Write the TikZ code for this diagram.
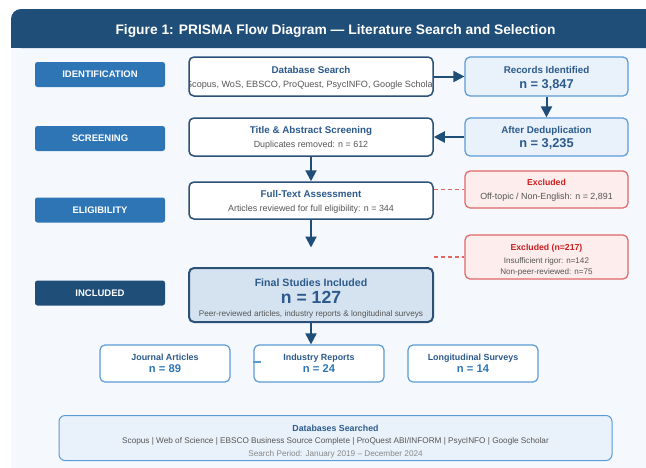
\documentclass[tikz,border=0pt]{standalone}
\usepackage{fontspec}
\setmainfont{Liberation Sans}
\usetikzlibrary{arrows.meta}
\definecolor{hdr}{HTML}{1F4E79}
\definecolor{phase}{HTML}{2E75B6}
\definecolor{cardbg}{HTML}{F5F9FE}
\definecolor{mainbd}{HTML}{2B5178}
\definecolor{ttlc}{HTML}{2C5A8C}
\definecolor{lbd}{HTML}{5B9BD5}
\definecolor{lfill}{HTML}{E9F2FB}
\definecolor{ffill}{HTML}{D5E3F0}
\definecolor{grayt}{HTML}{555555}
\definecolor{lgrayt}{HTML}{888888}
\definecolor{redbd}{HTML}{E06666}
\definecolor{redfill}{HTML}{FDEDED}
\definecolor{redt}{HTML}{CC1F1F}
\definecolor{arrc}{HTML}{1F4E79}
\newcommand\myfs[1]{\fontsize{#1}{#1}\selectfont}
\begin{document}
\begin{tikzpicture}[x=1pt,y=-1pt,
  phasebox/.style={fill=phase, rounded corners=2.5pt, minimum width=130pt, minimum height=25pt, inner sep=0pt, text=white, font=\bfseries\myfs{9.5}},
  mainbox/.style={draw=mainbd, line width=1.5pt, fill=white, rounded corners=5pt, minimum width=244pt, inner sep=0pt},
  lightbox/.style={draw=lbd, line width=1.2pt, fill=lfill, rounded corners=5pt, minimum width=163pt, inner sep=0pt},
  redbox/.style={draw=redbd, line width=1.2pt, fill=redfill, rounded corners=5pt, minimum width=163pt, inner sep=0pt},
  finalbox/.style={draw=mainbd, line width=2pt, fill=ffill, rounded corners=5pt, minimum width=244pt, inner sep=0pt},
  smallbox/.style={draw=lbd, line width=1.2pt, fill=white, rounded corners=5pt, minimum width=130pt, minimum height=37pt, inner sep=0pt},
  dbboxst/.style={draw=lbd, line width=1pt, fill=lfill, rounded corners=6pt, minimum width=553pt, minimum height=45pt, inner sep=0pt},
  ttl/.style={inner sep=0pt, text height=7.1pt, text depth=0pt, text=ttlc, font=\bfseries\myfs{9.8}},
  redttl/.style={inner sep=0pt, text height=6.3pt, text depth=0pt, text=redt, font=\bfseries\myfs{8.7}},
  sub/.style={inner sep=0pt, text height=6.4pt, text depth=0pt, text=grayt, font=\myfs{8.9}},
  subs/.style={inner sep=0pt, text height=5.9pt, text depth=0pt, text=grayt, font=\myfs{8.1}},
  bign/.style={inner sep=0pt, text height=9.2pt, text depth=0pt, text=ttlc, font=\bfseries\myfs{12.8}},
  smttl/.style={inner sep=0pt, text height=6.4pt, text depth=0pt, text=ttlc, font=\bfseries\myfs{8.9}},
  smn/.style={inner sep=0pt, text height=8pt, text depth=0pt, text=phase, font=\bfseries\myfs{11.2}},
  arr/.style={draw=arrc, line width=2pt, -{Triangle[length=11pt,width=11pt]}},
  exline/.style={draw=redbd, line width=1.2pt, dash pattern=on 4pt off 3pt}
]
\useasboundingbox (0,0) rectangle (646,467);
\fill[white] (0,0) rectangle (646,467);
\begin{scope}
  \clip (0,0) rectangle (646,467);
  \fill[cardbg, rounded corners=10pt] (11,9) rectangle (670,490);
  \fill[hdr, rounded corners=10pt] (11,9) rectangle (670,48);
  \fill[hdr] (11,30) rectangle (670,48);
\end{scope}
\node[inner sep=0pt, text height=9.9pt, text depth=0pt, text=white, font=\bfseries\myfs{13.8}] (title) at (335.5,29.5) {Figure 1: PRISMA Flow Diagram --- Literature Search and Selection};

% phase labels
\node[phasebox] (pid) at (100,74.5) {IDENTIFICATION};
\node[phasebox] (pscr) at (100,138.5) {SCREENING};
\node[phasebox] (pel) at (100,210) {ELIGIBILITY};
\node[phasebox, fill=hdr] (pinc) at (100,293) {INCLUDED};

% boxes
\node[mainbox, minimum height=39pt] (dbsearch) at (311,76.5) {};
\node[lightbox, minimum height=39pt] (records) at (546.5,76.5) {};
\node[lightbox, minimum height=38pt] (dedup) at (546.5,137) {};
\node[mainbox, minimum height=38pt] (screen) at (311,137) {};
\node[mainbox, minimum height=37pt] (fulltext) at (311,200.5) {};
\node[redbox, minimum height=37pt] (excl1) at (546.5,189.5) {};
\node[redbox, minimum height=44pt] (excl2) at (546.5,257) {};
\node[finalbox, minimum height=54pt] (final) at (311,295) {};
\node[smallbox] (journal) at (165,363.5) {};
\node[smallbox] (industry) at (319,363.5) {};
\node[smallbox] (longit) at (473,363.5) {};
\node[dbboxst] (dbbox) at (335.5,438) {};

% texts
\node[ttl] (tdb) at (311,70) {Database Search};
\begin{scope}
  \clip[rounded corners=5pt] (dbsearch.south west) rectangle (dbsearch.north east);
  \node[sub, font=\myfs{9.1}] (sdb) at (311,84) {Scopus, WoS, EBSCO, ProQuest, PsycINFO, Google Scholar};
\end{scope}
\node[ttl] (trec) at (546.5,70) {Records Identified};
\node[bign] (nrec) at (546.5,83.5) {n = 3,847};
\node[ttl] (tscr) at (311,130) {Title \& Abstract Screening};
\node[sub] (sscr) at (311,144) {Duplicates removed: n = 612};
\node[ttl] (tded) at (546.5,130.3) {After Deduplication};
\node[bign] (nded) at (546.5,142.8) {n = 3,235};
\node[ttl] (tft) at (311,194.2) {Full-Text Assessment};
\node[sub] (sft) at (311,208) {Articles reviewed for full eligibility: n = 344};
\node[redttl] (tex1) at (546.5,182.5) {Excluded};
\node[sub] (sex1) at (546.5,196) {Off-topic / Non-English: n = 2,891};
\node[redttl] (tex2) at (546.5,247.3) {Excluded (n=217)};
\node[subs] (sex2a) at (546.5,260.5) {Insufficient rigor: n=142};
\node[subs] (sex2b) at (546.5,272) {Non-peer-reviewed: n=75};
\node[inner sep=0pt, text height=7.6pt, text depth=0pt, text=ttlc, font=\bfseries\myfs{10.6}] (tfin) at (311,282.7) {Final Studies Included};
\node[inner sep=0pt, text height=12.7pt, text depth=0pt, text=ttlc, font=\bfseries\myfs{17.6}] (nfin) at (311,297) {n = 127};
\node[subs, font=\myfs{8.2}] (sfin) at (311,313.6) {Peer-reviewed articles, industry reports \& longitudinal surveys};
\node[smttl] (tjou) at (165,356.8) {Journal Articles};
\node[smn] (njou) at (165,368.3) {n = 89};
\node[smttl] (tind) at (319,356.8) {Industry Reports};
\node[smn] (nind) at (319,368.3) {n = 24};
\node[smttl] (tlon) at (473,356.8) {Longitudinal Surveys};
\node[smn] (nlon) at (473,368.3) {n = 14};
\node[inner sep=0pt, text height=6.3pt, text depth=0pt, text=ttlc, font=\bfseries\myfs{8.8}] (tdbs) at (335.5,428.3) {Databases Searched};
\node[sub, font=\myfs{8.2}, text height=5.9pt] (sdbs) at (335.5,441) {Scopus | Web of Science | EBSCO Business Source Complete | ProQuest ABI/INFORM | PsycINFO | Google Scholar};
\node[sub, font=\myfs{8.2}, text height=5.9pt, text=lgrayt] (pdbs) at (335.5,453.7) {Search Period: January 2019 -- December 2024};

% connectors
\coordinate (ftend) at (311,247.5);
\draw[arr] (dbsearch.east) -- (records.west);
\draw[arr] (records.south) -- (dedup.north);
\draw[arr] (dedup.west) -- (screen.east);
\draw[arr] (screen.south) -- (fulltext.north);
\draw[arr] (fulltext.south) -- (ftend);
\draw[arr] (final.south) -- (final.south |- industry.north);
\draw[exline] (excl1.west -| fulltext.east) -- (excl1.west);
\draw[exline] (excl2.west -| fulltext.east) -- (excl2.west);
\draw[draw=lbd, line width=1.2pt] (industry.west) ++(0,-1.5) -- ++(8,0);
\end{tikzpicture}
\end{document}
